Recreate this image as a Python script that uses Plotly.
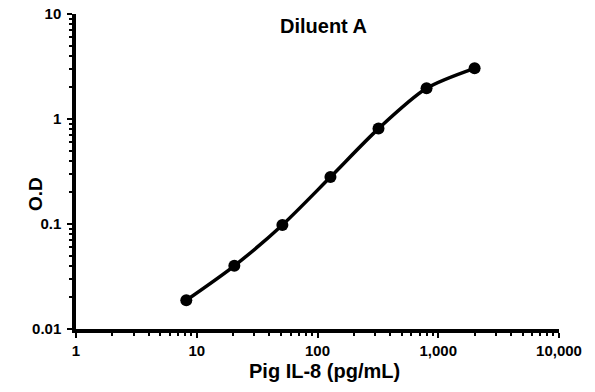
import plotly.graph_objects as go

conc = [8.192, 20.48, 51.2, 128, 320, 800, 2000]
od = [0.0188, 0.040, 0.098, 0.28, 0.81, 1.96, 3.04]

x_tickvals = [1, 10, 100, 1000, 10000]
x_ticktext = ["1", "10", "100", "1,000", "10,000"]
y_tickvals = [0.01, 0.1, 1, 10]
y_ticktext = ["0.01", "0.1", "1", "10"]

x_minor = [m * 10**d for d in range(0, 4) for m in range(2, 10)]
y_minor = [m * 10**d for d in range(-2, 1) for m in range(2, 10)]

font_family = "Liberation Sans, Arial, sans-serif"
W, H = 595, 392
L, R, T, B = 76, 36, 14, 63

fig = go.Figure()
fig.add_trace(go.Scatter(
    x=conc, y=od, mode="lines+markers",
    line=dict(color="black", width=3.5, shape="spline", smoothing=0.8),
    marker=dict(color="black", size=12),
    showlegend=False, hoverinfo="skip",
))

fig.update_layout(
    width=W, height=H,
    margin=dict(l=L, r=R, t=T, b=B, autoexpand=False),
    paper_bgcolor="white", plot_bgcolor="white",
    font=dict(family=font_family, color="black", size=15),
)

pw = W - L - R
ph = H - T - B

def px_x(x):
    return (x - L) / pw

def px_y(y):
    return (H - B - y) / ph

fig.add_annotation(text="<b>Diluent A</b>", x=px_x(323), y=px_y(26),
                   xref="paper", yref="paper", showarrow=False,
                   xanchor="center", yanchor="middle", font=dict(size=20))
fig.add_annotation(text="<b>Pig IL-8 (pg/mL)</b>", x=px_x(324), y=px_y(371),
                   xref="paper", yref="paper", showarrow=False,
                   xanchor="center", yanchor="middle", font=dict(size=20))
fig.add_annotation(text="<b>O.D</b>", x=px_x(35), y=px_y(194),
                   xref="paper", yref="paper", showarrow=False, textangle=-90,
                   xanchor="center", yanchor="middle", font=dict(size=19))

fig.update_xaxes(
    type="log", range=[0, 4], automargin=False,
    tickvals=x_tickvals, ticktext=[f"<b>{t}</b>" for t in x_ticktext],
    ticks="outside", ticklen=5, tickwidth=2, tickcolor="black",
    showline=True, linewidth=3.5, linecolor="black",
    showgrid=False, zeroline=False,
    minor=dict(tickvals=x_minor, ticks="outside", ticklen=3, tickwidth=2,
               tickcolor="black", showgrid=False),
    tickfont=dict(size=15),
)
fig.update_yaxes(
    type="log", range=[-2, 1], automargin=False,
    tickvals=y_tickvals, ticktext=[f"<b>{t}</b>" for t in y_ticktext],
    ticks="outside", ticklen=5, tickwidth=2, tickcolor="black",
    ticklabelstandoff=3,
    showline=True, linewidth=3.5, linecolor="black",
    showgrid=False, zeroline=False,
    minor=dict(tickvals=y_minor, ticks="outside", ticklen=3, tickwidth=2,
               tickcolor="black", showgrid=False),
    tickfont=dict(size=15),
)

fig.write_html("out.html", config={"displayModeBar": False},
               post_script="document.body.style.margin='0';document.body.style.overflow='hidden';")
